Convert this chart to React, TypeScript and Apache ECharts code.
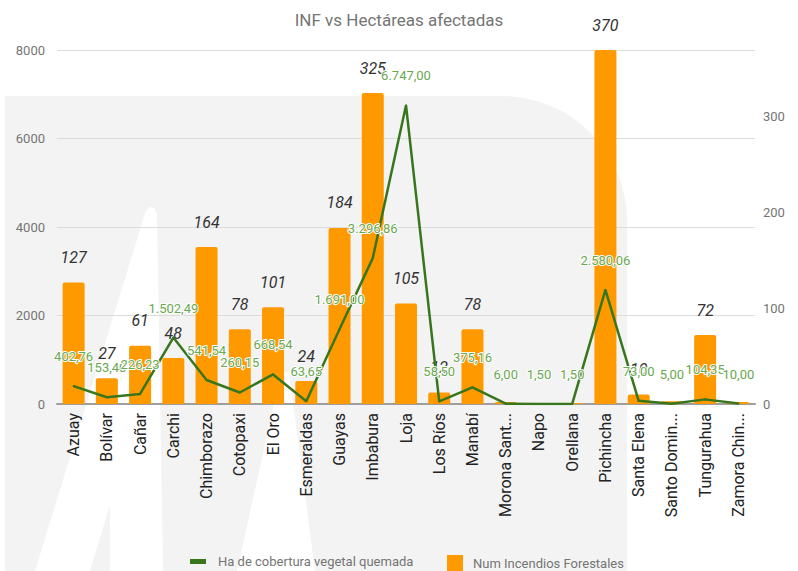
import React, { useEffect, useRef } from "react";
import * as echarts from "echarts";

const categories = [
  "Azuay", "Bolívar", "Cañar", "Carchi", "Chimborazo", "Cotopaxi", "El Oro",
  "Esmeraldas", "Guayas", "Imbabura", "Loja", "Los Ríos", "Manabí",
  "Morona Santiago", "Napo", "Orellana", "Pichincha", "Santa Elena",
  "Santo Domingo", "Tungurahua", "Zamora Chinchipe",
];
const incendios = [127, 27, 61, 48, 164, 78, 101, 24, 184, 325, 105, 12, 78, 2, 1, 1, 370, 10, 3, 72, 2];
const hectareas = [
  402.76, 153.4, 226.23, 1502.49, 541.54, 260.15, 668.54, 63.65, 1691.0,
  3296.86, 6747.0, 58.5, 375.16, 6.0, 1.5, 1.5, 2580.06, 73.0, 5.0, 104.35, 10.0,
];
const leftAxis = { min: 0, max: 8000, interval: 2000 };
const rightAxis = { min: 0, max: 370, interval: 100 };
const lineName = "Ha de cobertura vegetal quemada";
const barName = "Num Incendios Forestales";

function fmtEs(v: number): string {
  const [i, d] = v.toFixed(2).split(".");
  return i.replace(/\B(?=(\d{3})+(?!\d))/g, ".") + "," + d;
}

export default function App() {
  const ref = useRef<HTMLDivElement>(null);
  useEffect(() => {
    document.body.style.margin = "0";
    document.body.style.overflow = "hidden";
    const chart = echarts.init(ref.current!, undefined, { renderer: "svg" });
    const font = "Roboto";
    const bg = "#f3f3f3";
    chart.setOption({
      animation: false,
      textStyle: { fontFamily: font },
      title: {
        text: "INF vs Hectáreas afectadas",
        left: "center",
        top: 6,
        textStyle: { fontFamily: font, fontSize: 17, fontWeight: "normal", color: "#757575" },
      },
      graphic: [
        {
          type: "rect", z: -10, silent: true,
          shape: { x: 5, y: 96, width: 622, height: 475, r: [0, 125, 0, 0] },
          style: { fill: bg },
        },
        {
          type: "polygon", z: -9, silent: true,
          shape: { points: [[143, 220], [146, 211], [150, 207], [154, 208], [157, 213], [163, 571], [35, 571]] },
          style: { fill: "#ffffff" },
        },
        {
          type: "polygon", z: -8, silent: true,
          shape: { points: [[110, 505], [110, 571], [90, 571]] },
          style: { fill: bg },
        },
        {
          type: "polygon", z: -9, silent: true,
          shape: { points: [[281, 372], [289, 372], [315, 571], [237, 571]] },
          style: { fill: "#ffffff" },
        },
      ],
      legend: [
        {
          data: [{ name: lineName, icon: "rect" }],
          left: 190, top: 555, padding: 0, itemWidth: 16, itemHeight: 5, itemGap: 10,
          textStyle: { fontFamily: font, fontSize: 13, color: "#757575", padding: [0, 0, 0, 7] },
        },
        {
          data: [{ name: barName, icon: "rect" }],
          left: 447, top: 555, padding: 0, itemWidth: 16, itemHeight: 16,
          textStyle: { fontFamily: font, fontSize: 13, color: "#757575", padding: [0, 0, 0, 5] },
        },
      ],
      grid: { left: 57, right: 43, top: 50, bottom: 167 },
      xAxis: {
        type: "category",
        data: categories,
        axisLine: { lineStyle: { color: "#9e9e9e", width: 2 } },
        axisTick: { show: false },
        axisLabel: {
          rotate: 90, margin: 9, fontFamily: font, fontSize: 16, color: "#222",
          interval: 0, width: 109, overflow: "truncate", ellipsis: "...",
        },
      },
      yAxis: [
        {
          type: "value", ...leftAxis,
          axisLine: { show: false }, axisTick: { show: false },
          splitLine: { lineStyle: { color: "#dcdcdc" } },
          axisLabel: { margin: 12, fontFamily: font, fontSize: 13, color: "#757575", formatter: (v: number) => String(v) },
        },
        {
          type: "value", ...rightAxis, position: "right",
          axisLine: { show: false }, axisTick: { show: false },
          splitLine: { show: false },
          axisLabel: { margin: 8, fontFamily: font, fontSize: 13, color: "#757575", showMaxLabel: false, formatter: (v: number) => String(v) },
        },
      ],
      series: [
        {
          name: lineName, type: "line", yAxisIndex: 0, data: hectareas, z: 4,
          symbol: "circle", symbolSize: 2, showSymbol: true,
          lineStyle: { color: "#38761d", width: 2.5 }, itemStyle: { color: "#38761d" },
          label: {
            show: true, position: "top", distance: 22,
            formatter: (p: any) => fmtEs(p.value),
            fontFamily: font, fontSize: 13, color: "#6aa84f",
            textBorderColor: "#ffffff", textBorderWidth: 2,
          },
        },
        {
          name: barName, type: "bar", yAxisIndex: 1, data: incendios, z: 2,
          barWidth: 22, itemStyle: { color: "#ff9900", borderRadius: [2, 2, 0, 0] },
          label: {
            show: true, position: "top", distance: 17,
            formatter: (p: any) => (p.value >= 10 ? String(p.value) : ""),
            fontFamily: font, fontSize: 16, fontStyle: "italic", color: "#333",
          },
        },
      ],
    });
    return () => chart.dispose();
  }, []);
  return <div ref={ref} style={{ width: 798, height: 571 }} />;
}
